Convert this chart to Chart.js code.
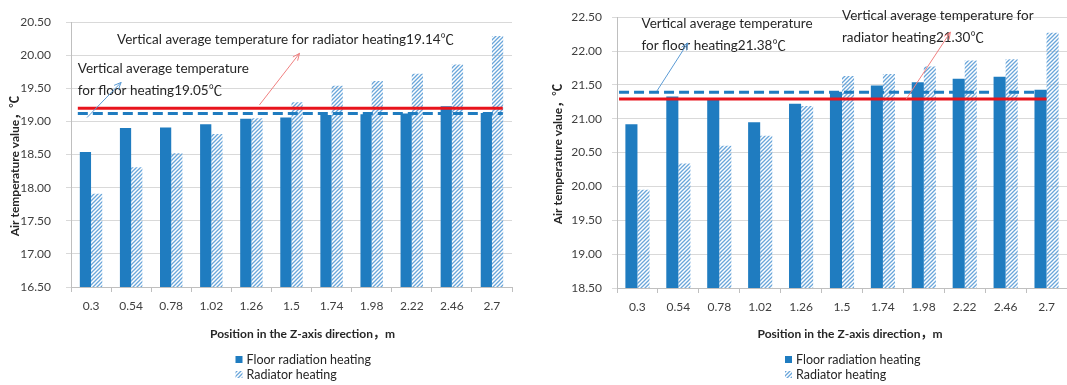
<!DOCTYPE html>
<html><head><meta charset="utf-8">
<script src="https://cdn.jsdelivr.net/npm/chart.js@4.4.0/dist/chart.umd.min.js"></script>
<style>
html,body{margin:0;padding:0;background:#fff;}
body{width:1067px;height:385px;overflow:hidden;position:relative;}
.c{position:absolute;top:0;height:385px;}
</style></head>
<body>
<div class="c" style="left:0;width:530px"><canvas id="c1" width="530" height="385"></canvas></div>
<div class="c" style="left:537px;width:530px"><canvas id="c2" width="530" height="385"></canvas></div>
<script>
// ---- data ----
const categories = ['0.3','0.54','0.78','1.02','1.26','1.5','1.74','1.98','2.22','2.46','2.7'];
const floorLeft     = [18.54,18.90,18.91,18.96,19.04,19.06,19.10,19.11,19.12,19.23,19.13];
const radiatorLeft  = [17.91,18.31,18.52,18.81,19.05,19.29,19.54,19.61,19.72,19.86,20.29];
const floorRight    = [20.92,21.33,21.29,20.95,21.22,21.40,21.49,21.54,21.59,21.62,21.43];
const radiatorRight = [19.95,20.34,20.60,20.75,21.19,21.63,21.66,21.77,21.86,21.88,22.27];
const avgLinesLeft  = [19.12, 19.20];   // [floor (dashed blue), radiator (red)]
const avgLinesRight = [21.39, 21.29];
const yRangeLeft  = [16.5, 20.5];
const yRangeRight = [18.5, 22.5];
const seriesNames = ['Floor radiation heating','Radiator heating'];
const xTitle = 'Position in the Z-axis direction，m';
const yTitle = 'Air temperature value，℃';
const notesLeft  = [['Vertical average temperature for radiator heating19.14℃'], ['Vertical average temperature','for floor heating19.05℃']];
const notesRight = [['Vertical average temperature','for floor heating21.38℃'], ['Vertical average temperature for','radiator heating21.30℃']];

// ---- styles ----
const BLUE = '#1f7cc0';
const HATCH = '#6aa6da';
const RED = '#e8141c';
const FONT = 'Lato, "Noto Sans CJK SC", sans-serif';
const TEXT = '#262626';

function hatch(color){
  const c = document.createElement('canvas'); c.width = c.height = 4;
  const g = c.getContext('2d'); g.strokeStyle = color; g.lineWidth = 1.3;
  g.beginPath();
  g.moveTo(0,4); g.lineTo(4,0);
  g.moveTo(-1,1); g.lineTo(1,-1);
  g.moveTo(3,5); g.lineTo(5,3);
  g.stroke();
  return g.createPattern(c,'repeat');
}
const hatchFill = hatch(HATCH);

function arrow(ctx, x1, y1, x2, y2, color){
  ctx.save();
  ctx.strokeStyle = color; ctx.fillStyle = color; ctx.lineWidth = 1;
  ctx.beginPath(); ctx.moveTo(x1,y1); ctx.lineTo(x2,y2); ctx.stroke();
  const a = Math.atan2(y2-y1, x2-x1), L = 7, W = 3;
  ctx.beginPath();
  ctx.moveTo(x2,y2);
  ctx.lineTo(x2 - L*Math.cos(a) + W*Math.sin(a), y2 - L*Math.sin(a) - W*Math.cos(a));
  ctx.moveTo(x2,y2);
  ctx.lineTo(x2 - L*Math.cos(a) - W*Math.sin(a), y2 - L*Math.sin(a) + W*Math.cos(a));
  ctx.stroke();
  ctx.restore();
}

const overlay = {
  id: 'overlay',
  afterDatasetsDraw(chart, args, o){
    const {ctx, scales:{x, y}} = chart;
    ctx.save();
    // average lines
    ctx.lineWidth = 3;
    ctx.strokeStyle = RED;
    ctx.setLineDash([]);
    ctx.beginPath();
    ctx.moveTo(x.getPixelForValue(o.span[0]), y.getPixelForValue(o.avg[1]));
    ctx.lineTo(x.getPixelForValue(o.span[1]), y.getPixelForValue(o.avg[1]));
    ctx.stroke();
    ctx.strokeStyle = BLUE;
    ctx.setLineDash([10,5]);
    ctx.beginPath();
    ctx.moveTo(x.getPixelForValue(o.span[0]), y.getPixelForValue(o.avg[0]));
    ctx.lineTo(x.getPixelForValue(o.span[1]), y.getPixelForValue(o.avg[0]));
    ctx.stroke();
    ctx.setLineDash([]);
    // notes
    ctx.font = o.noteFont + 'px ' + FONT;
    ctx.fillStyle = TEXT;
    ctx.textBaseline = 'middle';
    ctx.textAlign = 'left';
    o.notePos.forEach((p, i) => {
      o.notes[i].forEach((line, j) => {
        ctx.fillText(line, x.getPixelForValue(p[0]), y.getPixelForValue(p[1]) + j * o.lineGap);
      });
    });
    o.arrows.forEach(a => {
      arrow(ctx, x.getPixelForValue(a[0]), y.getPixelForValue(a[1]), x.getPixelForValue(a[2]), y.getPixelForValue(a[3]), a[4]);
    });
    ctx.restore();
  },
  afterDraw(chart, args, o){
    const {ctx, chartArea:ca} = chart;
    const cx = (ca.left + ca.right) / 2;
    ctx.save();
    ctx.fillStyle = TEXT;
    ctx.font = 'bold 12px ' + FONT;
    ctx.textAlign = 'center'; ctx.textBaseline = 'middle';
    ctx.fillText(xTitle, cx + o.xTitleDx, o.xTitleY);
    ctx.save();
    ctx.translate(o.yTitleX, o.yTitleY);
    ctx.rotate(-Math.PI/2);
    ctx.fillText(yTitle, 0, 0);
    ctx.restore();
    // legend
    const lx = cx + o.legendDx;
    ctx.font = '12.5px ' + FONT;
    ctx.textAlign = 'left';
    ctx.fillStyle = BLUE;
    ctx.fillRect(lx, o.legendY - 3, 7, 7);
    ctx.fillStyle = hatchFill;
    ctx.fillRect(lx, o.legendY + 15 - 3, 7, 7);
    ctx.fillStyle = TEXT;
    ctx.fillText(seriesNames[0], lx + 11, o.legendY + 1);
    ctx.fillText(seriesNames[1], lx + 11, o.legendY + 16);
    ctx.restore();
  }
};

function makeChart(id, floor, rad, yr, cfg){
  return new Chart(document.getElementById(id), {
    type: 'bar',
    data: {
      labels: categories,
      datasets: [
        {label: seriesNames[0], data: floor, backgroundColor: BLUE, borderWidth: 0, categoryPercentage: cfg.cat, barPercentage: 1},
        {label: seriesNames[1], data: rad, backgroundColor: hatchFill, borderWidth: 0, categoryPercentage: cfg.cat, barPercentage: 1}
      ]
    },
    options: {
      responsive: false, animation: false,
      layout: {padding: {top: cfg.top, right: cfg.right, left: 0, bottom: 0}},
      scales: {
        x: {
          grid: {drawOnChartArea: false, tickLength: 5, color: '#bfbfbf', offset: true},
          border: {color: '#bfbfbf'},
          ticks: {font: {family: FONT, size: 12}, color: '#404040', padding: 7, maxRotation: 0, autoSkip: false},
          afterFit: s => { s.height = 385 - cfg.bottom; }
        },
        y: {
          min: yr[0], max: yr[1],
          grid: {color: '#d9d9d9', tickLength: 5},
          border: {color: '#bfbfbf'},
          ticks: {stepSize: 0.5, callback: v => v.toFixed(2), font: {family: FONT, size: 12}, color: '#404040', padding: cfg.tpad},
          afterFit: s => { s.width = cfg.left; }
        }
      },
      plugins: {
        legend: {display: false},
        tooltip: {enabled: false},
        overlay: cfg.overlay
      }
    },
    plugins: [overlay]
  });
}

makeChart('c1', floorLeft, radiatorLeft, yRangeLeft, {
  cat: 0.56, top: 15, right: 18, bottom: 287, left: 71, tpad: 15,
  overlay: {
    avg: avgLinesLeft, span: [-0.33, 10.27],
    notes: notesLeft, noteFont: 13.5, lineGap: 22,
    notePos: [[0.65, 20.235], [-0.33, 19.794]],
    arrows: [[-0.1, 19.06, 0.75, 19.59, '#5b9bd5'], [4.2, 19.25, 5.2, 20.03, '#f08080']],
    xTitleDx: 11, xTitleY: 334, yTitleX: 15, yTitleY: 166,
    legendDx: -56, legendY: 359
  }
});
makeChart('c2', floorRight, radiatorRight, yRangeRight, {
  cat: 0.59, top: 17, right: 0, bottom: 288, left: 80, tpad: 10,
  overlay: {
    avg: avgLinesRight, span: [-0.45, 10.0],
    notes: notesRight, noteFont: 13.5, lineGap: 22,
    notePos: [[0.1, 22.407], [5.0, 22.519]],
    arrows: [[0.476, 21.41, 1.23, 22.12, '#5b9bd5'], [6.57, 21.29, 7.65, 22.28, '#f08080']],
    xTitleDx: 8, xTitleY: 334, yTitleX: 21, yTitleY: 154,
    legendDx: -57, legendY: 359
  }
});
</script>
</body></html>
